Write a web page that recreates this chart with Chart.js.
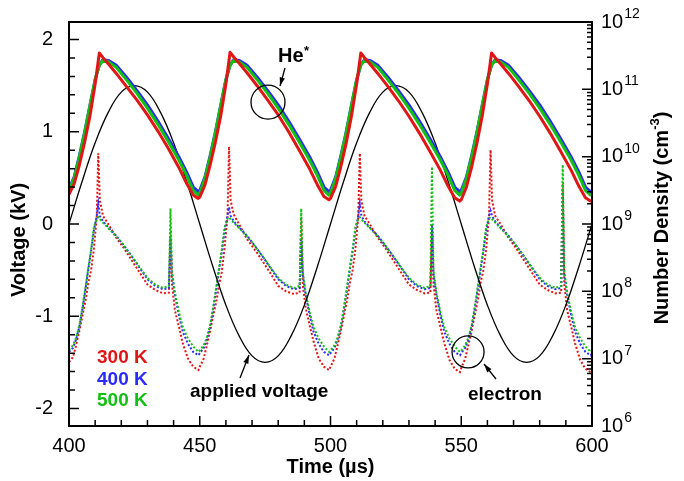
<!DOCTYPE html>
<html>
<head>
<meta charset="utf-8">
<script src="https://cdn.jsdelivr.net/npm/chart.js@4.4.1/dist/chart.umd.min.js"></script>
<style>
  body { margin: 0; background: #fff; }
  #wrap { width: 684px; height: 481px; }
</style>
</head>
<body>
<div id="wrap"><canvas id="chart-1"></canvas></div>
<script>
// applied voltage (kV) vs time (us)
let vTime = [400,405,410,415,420,425,430,435,440,445,450,455,460,465,470,475,480,485,490,495,
             500,505,510,515,520,525,530,535,540,545,550,555,560,565,570,575,580,585,590,595,600];
let appliedVoltage = [0,0.46,0.88,1.21,1.43,1.5,1.43,1.21,0.88,0.46,0,-0.46,-0.88,-1.21,-1.43,-1.5,-1.43,-1.21,-0.88,-0.46,
                      0,0.46,0.88,1.21,1.43,1.5,1.43,1.21,0.88,0.46,0,-0.46,-0.88,-1.21,-1.43,-1.5,-1.43,-1.21,-0.88,-0.46,0];

// He* density, given as power of ten (cm^-3)
let heTime = [400,402,404,406,408,410,411.6,413,415,418,422,426,430,434,438,442,445,447.5,449.4,
              450,452,454,456,458,460,461.6,463,465,468,472,476,480,484,488,492,495,497.5,499.4,
              500,502,504,506,508,510,511.6,513,515,518,522,526,530,534,538,542,545,547.5,549.4,
              550,552,554,556,558,560,561.6,563,565,568,572,576,580,584,588,592,595,597.5,599.4,600];
let heRed = [9.44,9.6,9.88,10.22,10.6,11.08,11.54,11.47,11.38,11.24,11.04,10.84,10.62,10.38,10.12,9.84,9.6,9.43,9.38,
             9.4,9.58,9.88,10.22,10.6,11.08,11.55,11.48,11.39,11.25,11.05,10.84,10.62,10.37,10.1,9.82,9.58,9.41,9.36,
             9.38,9.56,9.86,10.2,10.6,11.08,11.54,11.47,11.38,11.24,11.04,10.83,10.6,10.35,10.08,9.8,9.56,9.39,9.34,
             9.36,9.55,9.85,10.2,10.6,11.08,11.54,11.47,11.38,11.24,11.04,10.83,10.6,10.35,10.08,9.8,9.56,9.39,9.34,9.34];
let heBlue = [9.52,9.7,10.02,10.37,10.76,11.14,11.36,11.44,11.43,11.36,11.18,10.98,10.77,10.53,10.27,10.0,9.77,9.55,9.48,
              9.5,9.7,10.02,10.37,10.76,11.14,11.36,11.44,11.43,11.36,11.18,10.98,10.77,10.53,10.27,10.0,9.77,9.55,9.48,
              9.5,9.7,10.02,10.37,10.76,11.14,11.36,11.44,11.43,11.36,11.18,10.98,10.77,10.53,10.27,10.0,9.77,9.55,9.48,
              9.5,9.7,10.02,10.37,10.76,11.14,11.36,11.44,11.43,11.36,11.18,10.98,10.77,10.53,10.27,10.0,9.77,9.55,9.48,9.49];
let heGreen = [9.5,9.68,10.0,10.36,10.76,11.15,11.36,11.43,11.41,11.33,11.14,10.94,10.72,10.48,10.22,9.95,9.72,9.5,9.43,
               9.46,9.68,10.0,10.36,10.76,11.15,11.36,11.43,11.41,11.33,11.14,10.94,10.72,10.48,10.22,9.95,9.72,9.5,9.43,
               9.46,9.68,10.0,10.36,10.76,11.15,11.36,11.43,11.41,11.33,11.14,10.94,10.72,10.48,10.22,9.95,9.72,9.5,9.43,
               9.46,9.68,10.0,10.36,10.76,11.15,11.36,11.43,11.41,11.33,11.14,10.94,10.72,10.48,10.22,9.95,9.72,9.5,9.43,9.44];

// electron density, power of ten (cm^-3)
let eTime = [400,401.5,402.6,404,405.2,406.5,407.5,408.4,409.5,410.6,411.2,411.8,413,415,418,421,424,427,430,433,436,438.2,438.8,439.4,440.5,442,443.5,445.5,447.5,449.5,
             450,451.5,452.6,454,455.2,456.5,457.5,458.4,459.5,460.6,461.2,461.8,463,465,468,471,474,477,480,483,486,488.2,488.8,489.4,490.5,492,493.5,495.5,497.5,499.5,
             500,501.5,502.6,504,505.2,506.5,507.5,508.4,509.5,510.6,511.2,511.8,513,515,518,521,524,527,530,533,536,538.2,538.8,539.4,540.5,542,543.5,545.5,547.5,549.5,
             550,551.5,552.6,554,555.2,556.5,557.5,558.4,559.5,560.6,561.2,561.8,563,565,568,571,574,577,580,583,586,588.2,588.8,589.4,590.5,592,593.5,595.5,597.5,599.5,600];
let eRed = [6.95,7.02,7.18,7.42,7.65,7.9,8.15,8.3,8.62,9.1,10.05,9.35,9.12,9.0,8.8,8.64,8.46,8.28,8.1,8.02,7.97,7.98,8.9,8.1,7.72,7.48,7.23,7.0,6.88,6.83,
            6.88,7.0,7.18,7.42,7.65,7.88,8.12,8.28,8.65,9.1,10.15,9.35,9.14,9.0,8.78,8.62,8.45,8.27,8.08,8.0,7.96,7.98,9.1,8.1,7.75,7.5,7.26,7.0,6.88,6.83,
            6.88,7.0,7.18,7.42,7.65,7.9,8.15,8.3,8.62,9.1,10.05,9.35,9.12,9.0,8.8,8.64,8.46,8.28,8.1,8.02,7.97,7.98,8.9,8.1,7.72,7.48,7.23,6.98,6.85,6.8,
            6.86,7.0,7.18,7.42,7.65,7.9,8.15,8.3,8.62,9.1,10.1,9.35,9.12,9.0,8.8,8.64,8.46,8.28,8.1,8.02,7.97,7.98,9.6,8.1,7.72,7.48,7.23,6.98,6.85,6.8,6.78];
let eBlue = [7.1,7.16,7.27,7.48,7.75,8.08,8.35,8.58,8.9,9.12,9.3,9.12,9.04,8.95,8.83,8.68,8.52,8.35,8.18,8.08,8.03,8.05,8.8,8.25,7.95,7.65,7.4,7.22,7.1,7.05,
             7.08,7.16,7.27,7.48,7.75,8.08,8.35,8.58,8.9,9.12,9.25,9.12,9.04,8.95,8.83,8.68,8.52,8.35,8.18,8.08,8.03,8.05,8.76,8.25,7.95,7.65,7.4,7.22,7.1,7.05,
             7.08,7.16,7.27,7.48,7.75,8.08,8.35,8.58,8.9,9.12,9.3,9.12,9.04,8.95,8.83,8.68,8.52,8.35,8.18,8.08,8.03,8.05,9.0,8.25,7.95,7.65,7.4,7.22,7.1,7.05,
             7.08,7.16,7.27,7.48,7.75,8.08,8.35,8.58,8.9,9.12,9.2,9.12,9.04,8.95,8.83,8.68,8.52,8.35,8.18,8.08,8.03,8.05,9.5,8.25,7.95,7.65,7.4,7.22,7.1,7.05,7.08];
let eGreen = [7.13,7.2,7.3,7.5,7.78,8.12,8.38,8.61,8.95,9.08,9.1,9.07,9.02,8.94,8.82,8.68,8.52,8.36,8.2,8.1,8.05,8.08,9.23,8.3,7.98,7.7,7.47,7.3,7.18,7.1,
              7.12,7.2,7.3,7.5,7.78,8.12,8.38,8.61,8.95,9.08,9.1,9.07,9.02,8.94,8.82,8.68,8.52,8.36,8.2,8.1,8.05,8.08,9.23,8.3,7.98,7.7,7.47,7.3,7.18,7.1,
              7.12,7.2,7.3,7.5,7.78,8.12,8.38,8.61,8.95,9.08,9.1,9.07,9.02,8.94,8.82,8.68,8.52,8.36,8.2,8.1,8.05,8.08,9.85,8.3,7.98,7.7,7.47,7.3,7.18,7.1,
              7.12,7.2,7.3,7.5,7.78,8.12,8.38,8.61,8.95,9.08,9.1,9.07,9.02,8.94,8.82,8.68,8.52,8.36,8.2,8.1,8.05,8.08,9.88,8.3,7.98,7.7,7.47,7.3,7.18,7.1,7.13];

let xTicks = [400, 450, 500, 550, 600];
let vTicks = [-2, -1, 0, 1, 2];
let nTicks = [6, 7, 8, 9, 10, 11, 12];
let tempLabels = ['300 K', '400 K', '500 K'];

let red = '#e01515', blue = '#2a2aff', green = '#12c012';
let FONT = '"Liberation Sans", Arial, sans-serif';

function pts(times, vals) {
    return times.map((t, i) => ({ x: t, y: vals[i] }));
}

function arrow(ctx, x1, y1, x2, y2) {
    let a = Math.atan2(y2 - y1, x2 - x1), h = 9;
    ctx.beginPath();
    ctx.moveTo(x1, y1);
    ctx.lineTo(x2, y2);
    ctx.stroke();
    ctx.beginPath();
    ctx.moveTo(x2, y2);
    ctx.lineTo(x2 - h * Math.cos(a - 0.3), y2 - h * Math.sin(a - 0.3));
    ctx.lineTo(x2 - h * Math.cos(a + 0.3), y2 - h * Math.sin(a + 0.3));
    ctx.closePath();
    ctx.fill();
}

// frame, inward ticks, right-axis labels, titles and notes
const decorations = {
    id: 'decorations',
    afterDraw(chart) {
        const { ctx, chartArea: a, scales } = chart;
        const x = scales.x, y = scales.y, n = scales.n;
        ctx.save();
        ctx.strokeStyle = '#000';
        ctx.fillStyle = '#000';
        ctx.lineWidth = 2;
        ctx.strokeRect(a.left, a.top, a.right - a.left, a.bottom - a.top);

        ctx.lineWidth = 1.5;
        ctx.beginPath();
        for (let t = 400; t <= 600; t += 10) {
            let px = x.getPixelForValue(t), len = t % 50 === 0 ? 10 : 6;
            ctx.moveTo(px, a.bottom);
            ctx.lineTo(px, a.bottom - len);
        }
        for (let v = -2.2; v <= 2.2; v += 0.2) {
            let r = Math.round(v * 5) / 5;
            if (r < -2.19 || r > 2.19) continue;
            let py = y.getPixelForValue(r), len = Number.isInteger(r) ? 10 : 6;
            ctx.moveTo(a.left, py);
            ctx.lineTo(a.left + len, py);
        }
        nTicks.forEach(e => {
            let py = n.getPixelForValue(e);
            ctx.moveTo(a.right, py);
            ctx.lineTo(a.right - 10, py);
            if (e < 12) {
                for (let k = 2; k <= 9; k++) {
                    let pk = n.getPixelForValue(e + Math.log10(k));
                    ctx.moveTo(a.right, pk);
                    ctx.lineTo(a.right - 5, pk);
                }
            }
        });
        ctx.stroke();

        // right tick labels 10^n
        ctx.textBaseline = 'middle';
        ctx.textAlign = 'left';
        nTicks.forEach(e => {
            let py = n.getPixelForValue(e);
            ctx.font = '20px ' + FONT;
            ctx.fillText('10', a.right + 9, py);
            let w = ctx.measureText('10').width;
            ctx.font = '14px ' + FONT;
            ctx.fillText(String(e), a.right + 10 + w, py - 8);
        });

        // axis titles
        ctx.font = 'bold 20px ' + FONT;
        ctx.textAlign = 'center';
        ctx.fillText('Time (\u00b5s)', (a.left + a.right) / 2, 467);

        ctx.save();
        ctx.translate(19, 240);
        ctx.rotate(-Math.PI / 2);
        ctx.fillText('Voltage (kV)', 0, 0);
        ctx.restore();

        ctx.save();
        ctx.translate(662, 218);
        ctx.rotate(-Math.PI / 2);
        let main = 'Number Density (cm', sup = '-3', tail = ')';
        ctx.font = 'bold 20px ' + FONT;
        let w1 = ctx.measureText(main).width, w3 = ctx.measureText(tail).width;
        ctx.font = 'bold 13px ' + FONT;
        let w2 = ctx.measureText(sup).width;
        let x0 = -(w1 + w2 + w3) / 2;
        ctx.textAlign = 'left';
        ctx.font = 'bold 20px ' + FONT;
        ctx.fillText(main, x0, 0);
        ctx.fillText(tail, x0 + w1 + w2, 0);
        ctx.font = 'bold 13px ' + FONT;
        ctx.fillText(sup, x0 + w1, -7);
        ctx.restore();

        // legend text
        ctx.textAlign = 'left';
        ctx.textBaseline = 'alphabetic';
        ctx.font = 'bold 19px ' + FONT;
        [red, blue, green].forEach((c, i) => {
            ctx.fillStyle = c;
            ctx.fillText(tempLabels[i], 97, 363 + i * 21.5);
        });

        // annotations
        ctx.fillStyle = '#000';
        ctx.strokeStyle = '#000';
        ctx.lineWidth = 1.3;
        ctx.font = 'bold 19px ' + FONT;
        ctx.fillText('applied voltage', 190, 397);
        ctx.fillText('electron', 468, 400);
        ctx.font = 'bold 20px ' + FONT;
        ctx.fillText('He', 278, 62);
        ctx.font = 'bold 13px ' + FONT;
        ctx.fillText('*', 304, 55);

        ctx.beginPath();
        ctx.arc(x.getPixelForValue(476.1), n.getPixelForValue(10.81), 17, 0, Math.PI * 2);
        ctx.stroke();
        ctx.beginPath();
        ctx.arc(x.getPixelForValue(552.6), n.getPixelForValue(7.1), 16, 0, Math.PI * 2);
        ctx.stroke();

        arrow(ctx, 285, 68, 280, 86);
        arrow(ctx, 240, 378, 249, 355);
        arrow(ctx, 496, 379, 484, 364);
        ctx.restore();
    }
};

Chart.defaults.font.family = FONT;
Chart.defaults.color = '#000';

let solid = (vals, color) => ({
    data: pts(heTime, vals), yAxisID: 'n', borderColor: color, borderWidth: 3,
    pointRadius: 0, tension: 0, borderJoinStyle: 'round'
});
let dotted = (vals, color) => ({
    data: pts(eTime, vals), yAxisID: 'n', borderColor: color, borderWidth: 2,
    borderDash: [2, 2], pointRadius: 0, tension: 0
});

let chart_1 = document.getElementById('chart-1');

new Chart(chart_1, {
    type: 'line',
    data: {
        datasets: [
            solid(heRed, red),
            solid(heGreen, green),
            solid(heBlue, blue),
            { data: pts(vTime, appliedVoltage), yAxisID: 'y', borderColor: '#000', borderWidth: 1.3, pointRadius: 0, tension: 0.4 },
            dotted(eGreen, green),
            dotted(eBlue, blue),
            dotted(eRed, red)
        ]
    },
    options: {
        responsive: true,
        maintainAspectRatio: false,
        animation: false,
        layout: { padding: { top: 22, left: 0, right: 0, bottom: 0 } },
        plugins: { legend: { display: false }, tooltip: { enabled: false } },
        scales: {
            x: {
                type: 'linear', min: 400, max: 600,
                grid: { display: false }, border: { display: false },
                ticks: { font: { size: 20 }, padding: 0, maxRotation: 0 },
                afterBuildTicks: s => { s.ticks = xTicks.map(v => ({ value: v })); },
                afterFit: s => { s.height = 55; }
            },
            y: {
                position: 'left', min: -2.19, max: 2.19,
                grid: { display: false }, border: { display: false },
                ticks: { font: { size: 20 }, padding: 8 },
                afterBuildTicks: s => { s.ticks = vTicks.map(v => ({ value: v })); },
                afterFit: s => { s.width = 69; }
            },
            n: {
                position: 'right', min: 6, max: 12,
                grid: { display: false }, border: { display: false },
                ticks: { display: false },
                afterBuildTicks: s => { s.ticks = nTicks.map(v => ({ value: v })); },
                afterFit: s => { s.width = 92; }
            }
        }
    },
    plugins: [decorations]
});
</script>
</body>
</html>
